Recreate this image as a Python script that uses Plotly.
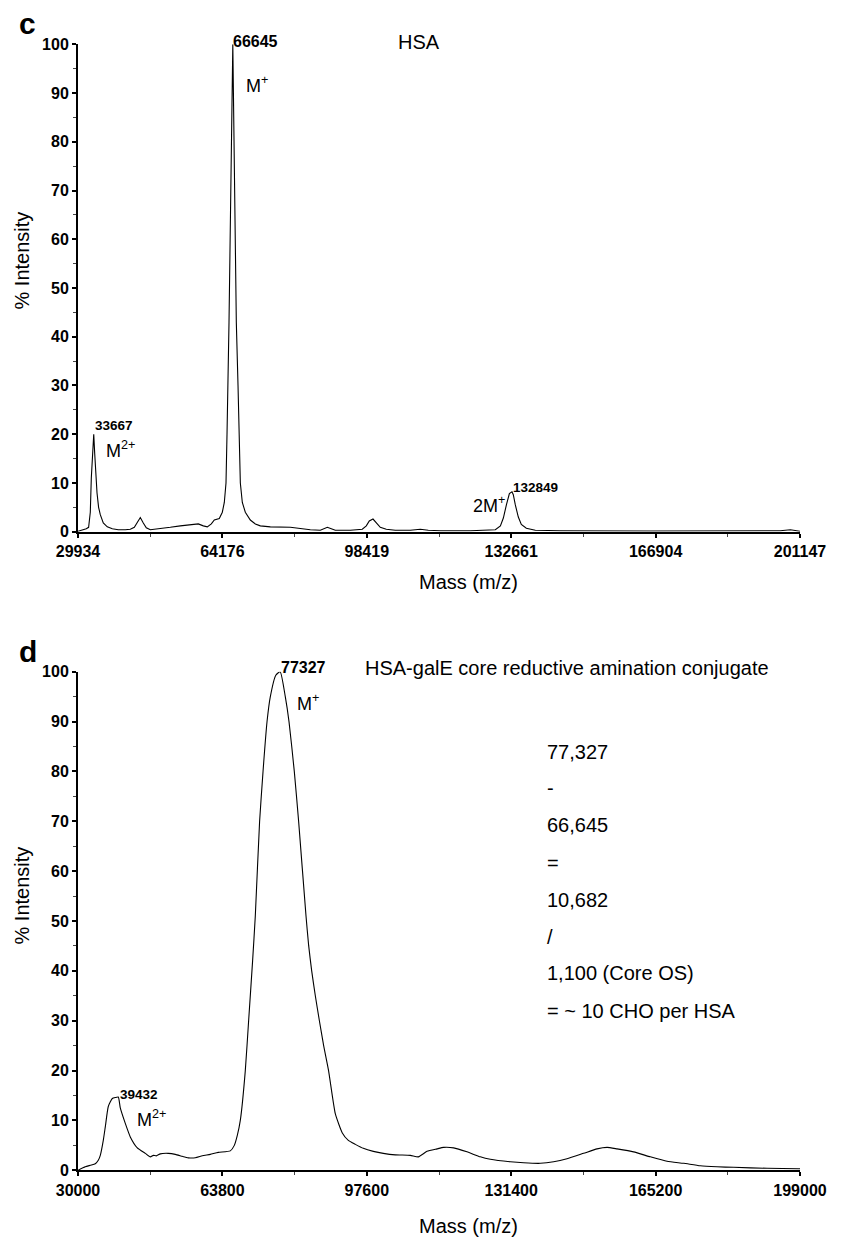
import plotly.graph_objects as go

# ---------------- data ----------------
# Panel c: native HSA, MALDI-TOF spectrum
hsa_mass = [29934, 30950, 31900, 32450, 32850, 33090, 33400, 33667, 33900, 34160,
            34440, 34820, 35220, 35930, 36880, 38070, 39490, 41150, 42340, 43290,
            44000, 44710, 45420, 46130, 47080, 49450, 51820, 54200, 56570, 58460,
            59650, 60600, 61550, 62260, 63440, 64160, 64630, 65030, 65270, 65510,
            65745, 66645, 67475, 67880, 68140, 68430, 68900, 69610, 70800, 71990,
            73170, 75550, 80290, 82660, 85030, 87400, 88110, 89060, 90000, 90950,
            94510, 97350, 98300, 99010, 99890, 100670, 101620, 103040, 105180, 108730,
            111100, 113000, 115860, 122970, 128900, 130100, 130800, 131520, 132230, 132849,
            133160, 133640, 134350, 135060, 136250, 138380, 144310, 165650, 180000, 196490,
            198860, 200040, 201147]
hsa_int = [0.1, 0.3, 0.6, 0.9, 4, 11, 17, 20, 16, 11,
           8, 5, 3.5, 1.8, 1.0, 0.6, 0.4, 0.4, 0.5, 0.9,
           2.0, 2.9, 1.8, 0.8, 0.4, 0.6, 0.9, 1.2, 1.4, 1.6,
           1.2, 1.0, 1.6, 2.4, 2.7, 4, 6, 10, 20, 30,
           43, 100, 43, 30, 20, 10, 6, 4, 2.4, 1.6,
           1.2, 1.0, 0.9, 0.6, 0.4, 0.3, 0.6, 0.9, 0.6, 0.3,
           0.3, 0.5, 1.2, 2.2, 2.6, 1.8, 0.9, 0.5, 0.3, 0.3,
           0.5, 0.3, 0.2, 0.2, 0.4, 1.2, 2.8, 5.5, 7.8, 8.2,
           7.6, 5.5, 3.0, 1.5, 0.7, 0.3, 0.2, 0.15, 0.15, 0.2,
           0.4, 0.3, 0.1]

# Panel d: HSA-galE core reductive amination conjugate
conj_mass = [30000, 31710, 32880, 34050, 34750, 35220, 35920, 36390, 37090, 38030,
             38730, 39432, 39900, 41070, 42240, 43880, 45760, 46930, 47630, 48330,
             49270, 51140, 52780, 54420, 55820, 57460, 59100, 60970, 62840, 65650,
             66590, 67290, 67990, 69160, 69940, 70870, 71500, 72510, 73310, 74250,
             75020, 76300, 77327, 78520, 79390, 80630, 81640, 83370, 84000, 84700,
             85550, 86500, 87500, 88650, 90240, 91870, 93280, 94920, 96790, 99130,
             101470, 104280, 107790, 109660, 111690, 114030, 115580, 117920, 121050, 124170,
             126510, 131190, 134310, 138220, 141330, 144460, 148350, 151490, 153830, 156170,
             160050, 163960, 167870, 171750, 175660, 179570, 183460, 191280, 198680, 199000]
conj_int = [0, 0.7, 1.0, 1.3, 2.0, 3.0, 6, 8.7, 12.8, 14.4,
            14.6, 14.7, 12.5, 9.4, 6.7, 4.5, 3.4, 2.7, 3.0, 2.9,
            3.3, 3.4, 3.2, 2.8, 2.5, 2.5, 2.9, 3.2, 3.6, 3.9,
            5.0, 7.0, 10, 20, 30, 42, 51, 70, 80, 90,
            95, 99.3, 100, 95, 90, 80, 70, 51, 45, 40,
            35, 30, 25, 20, 11.3, 7.5, 6, 5.2, 4.4, 3.8,
            3.4, 3.1, 3.0, 2.7, 3.8, 4.3, 4.6, 4.5, 3.7, 2.7,
            2.2, 1.7, 1.5, 1.4, 1.7, 2.3, 3.4, 4.3, 4.6, 4.3,
            3.7, 2.7, 1.8, 1.4, 0.9, 0.7, 0.6, 0.4, 0.3, 0.3]

hsa_ticks = [29934, 64176, 98419, 132661, 166904, 201147]
conj_ticks = [30000, 63800, 97600, 131400, 165200, 199000]
y_ticks = list(range(0, 101, 10))

calc_lines = ["77,327", "-", "66,645", "=", "10,682", "/", "1,100 (Core OS)", "= ~ 10 CHO per HSA"]

# ---------------- figure ----------------
W, H = 843, 1237
FONT = "Liberation Sans, Arial, sans-serif"


def P(px, py):
    """Pixel position -> paper coordinates."""
    return px / W, 1 - py / H


def mids(v):
    return [(a + b) / 2 for a, b in zip(v[:-1], v[1:])]


fig = go.Figure()
fig.add_trace(go.Scatter(x=hsa_mass, y=hsa_int, mode="lines",
                         line=dict(color="black", width=1.1),
                         xaxis="x", yaxis="y", showlegend=False))
fig.add_trace(go.Scatter(x=conj_mass, y=conj_int, mode="lines",
                         line=dict(color="black", width=1.1, shape="spline", smoothing=0.5),
                         xaxis="x2", yaxis="y2", showlegend=False))

xdom = [78 / W, 800 / W]
top_dom = [1 - 531.7 / H, 1 - 44.3 / H]
bot_dom = [1 - 1170.3 / H, 1 - 671.7 / H]

tickfont = dict(family=FONT, size=16, color="black", weight="bold")


def xaxis(anchor, ticks):
    return dict(domain=xdom, anchor=anchor, range=[ticks[0], ticks[-1]],
                tickmode="array", tickvals=ticks, ticktext=[str(t) for t in ticks],
                ticks="outside", ticklen=4, tickwidth=1.5, tickcolor="black",
                showline=True, linecolor="black", linewidth=2,
                showgrid=False, zeroline=False, tickfont=tickfont, automargin=False,
                minor=dict(tickmode="array", tickvals=mids(ticks), ticks="outside",
                           ticklen=3, tickwidth=1, tickcolor="#444"))


def yaxis(dom, anchor):
    return dict(domain=dom, anchor=anchor, range=[0, 100],
                tickmode="array", tickvals=y_ticks,
                ticks="outside", ticklen=4, tickwidth=1.5, tickcolor="black",
                showline=True, linecolor="black", linewidth=2,
                showgrid=False, zeroline=False, tickfont=tickfont, automargin=False,
                minor=dict(dtick=5, tick0=0, ticks="outside", ticklen=3,
                           tickwidth=1, tickcolor="#444"))


fig.update_layout(
    width=W, height=H,
    margin=dict(l=0, r=0, t=0, b=0, autoexpand=False),
    paper_bgcolor="white", plot_bgcolor="white",
    xaxis=xaxis("y", hsa_ticks),
    yaxis=yaxis(top_dom, "x"),
    xaxis2=xaxis("y2", conj_ticks),
    yaxis2=yaxis(bot_dom, "x2"),
    font=dict(family=FONT, color="black"),
)

ann = []


def text(px, py, s, size=20, bold=False, xanchor="left", angle=0):
    x, y = P(px, py)
    ann.append(dict(x=x, y=y, xref="paper", yref="paper", text=s, showarrow=False,
                    xanchor=xanchor, yanchor="middle", textangle=angle,
                    font=dict(family=FONT, size=size, color="black",
                              weight="bold" if bold else "normal")))


# panel c
text(27, 24, "c", size=30, bold=True, xanchor="center")
text(396, 42, "HSA")
text(231, 41, "66645", size=16, bold=True)
text(244, 84, "M<sup>+</sup>", size=18)
text(93, 425, "33667", size=13.5, bold=True)
text(104, 450, "M<sup>2+</sup>", size=18)
text(471, 504, "2M<sup>+</sup>", size=18)
text(511, 488, "132849", size=13.5, bold=True)
text(468, 582, "Mass (m/z)", xanchor="center")
text(21.5, 261, "% Intensity", xanchor="center", angle=-90)

# panel d
text(28, 651, "d", size=30, bold=True, xanchor="center")
text(363, 668, "HSA-galE core reductive amination conjugate")
text(279, 667, "77327", size=16, bold=True)
text(295, 702, "M<sup>+</sup>", size=18)
text(118, 1094, "39432", size=13.5, bold=True)
text(135, 1118, "M<sup>2+</sup>", size=18)
text(468, 1226, "Mass (m/z)", xanchor="center")
text(21.5, 896, "% Intensity", xanchor="center", angle=-90)

line_y = [752, 788, 825, 863, 900, 937, 973, 1011]
for s, yy in zip(calc_lines, line_y):
    text(545, yy, s)

fig.update_layout(annotations=ann)
fig.write_html("out.html")
